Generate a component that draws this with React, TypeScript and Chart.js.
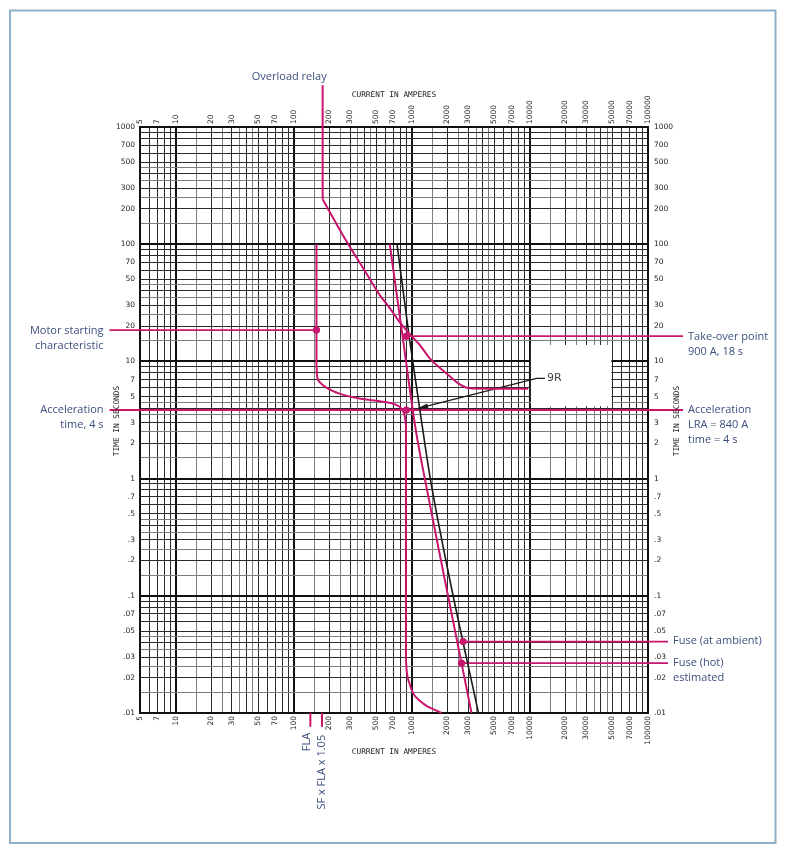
import { useEffect, useRef } from 'react';
import { Chart, registerables } from 'chart.js';

Chart.register(...registerables);

// ---- axes ----
const X_MIN = 5;
const X_MAX = 100000;
const Y_MIN = 0.01;
const Y_MAX = 1000;
const X_TICK_LABELS = [5, 7, 10, 20, 30, 50, 70, 100, 200, 300, 500, 700, 1000, 2000, 3000, 5000, 7000, 10000, 20000, 30000, 50000, 70000, 100000];
const Y_TICK_LABELS = [1000, 700, 500, 300, 200, 100, 70, 50, 30, 20, 10, 7, 5, 3, 2, 1, 0.7, 0.5, 0.3, 0.2, 0.1, 0.07, 0.05, 0.03, 0.02, 0.01];
const GRID_STEPS = [1, 1.5, 2, 2.5, 3, 3.5, 4, 4.5, 5, 6, 7, 8, 9];

// ---- overload relay (current A, time s) ----
const relayVertI = [176, 176];
const relayVertT = [2267, 242];
const relayCurveI = [176, 214, 270.5, 413, 536, 651, 791, 962, 1169, 1421, 1968, 2552, 3100, 4581, 9674];
const relayCurveT = [242, 170, 112.5, 56.3, 36.8, 28.5, 21.6, 17.1, 13.8, 10.6, 7.9, 6.37, 5.89, 5.85, 5.85];

// ---- motor starting characteristic ----
const motorRunI = [156, 156];
const motorRunT = [100, 9.3];
const motorBendI = [156, 158, 166, 189, 245, 362, 568, 732, 823, 872, 893];
const motorBendT = [9.3, 7.49, 6.66, 5.98, 5.31, 4.82, 4.52, 4.28, 3.92, 3.42, 2.86];
const motorDropI = [893, 893];
const motorDropT = [2.86, 0.0284];
const motorTailI = [893, 907, 952, 1026, 1169, 1332, 1566, 1785];
const motorTailT = [0.0284, 0.02245, 0.0181, 0.01478, 0.0127, 0.01151, 0.01065, 0.01];

// ---- fuses ----
const fuseHotI = [651, 815, 1081, 1289, 1904, 3205];
const fuseHotT = [100, 19.7, 2.6, 1.0, 0.137, 0.01];
const fuseAmbI = [750, 949, 1240, 1435, 2099, 3670];
const fuseAmbT = [100, 16.4, 2.6, 1.0, 0.137, 0.01];

// ---- marked points ----
const dotI = [156, 900, 900, 2720, 2637];
const dotT = [18.5, 3.85, 16.4, 0.0407, 0.0266];

// ---- leader lines ----
const motorLeaderI = [2.76, 156];
const motorLeaderT = [18.5, 18.5];
const accelLeaderI = [2.76, 197900];
const accelLeaderT = [3.85, 3.85];
const takeoverLeaderI = [900, 197900];
const takeoverLeaderT = [16.4, 16.4];
const fuseAmbLeaderI = [2720, 147700];
const fuseAmbLeaderT = [0.0407, 0.0407];
const fuseHotLeaderI = [2637, 147700];
const fuseHotLeaderT = [0.0266, 0.0266];
const flaMarkI = [138.5, 138.5];
const sfMarkI = [173.7, 173.7];
const markT = [0.01, 0.00762];

// ---- 9R pointer ----
const pointerI = [1131, 11397, 13404];
const pointerT = [3.974, 7.163, 7.163];

// ---- blanked box ----
const boxI = [10000, 49000];
const boxT = [13.8, 4.15];

const MAGENTA = '#c8166e';
const INK = '#3c4f7d';
const TEXT_FONT = '"Open Sans", "Noto Sans", sans-serif';

function gridValues(min: number, max: number): number[] {
  const out: number[] = [];
  for (let e = Math.floor(Math.log10(min)); e <= Math.ceil(Math.log10(max)); e++) {
    for (const m of GRID_STEPS) {
      const v = parseFloat((m * Math.pow(10, e)).toPrecision(6));
      if (v >= min * 0.9999 && v <= max * 1.0001) out.push(v);
    }
  }
  return out;
}
const X_GRID = gridValues(X_MIN, X_MAX);
const Y_GRID = gridValues(Y_MIN, Y_MAX);

const fmtLabel = (v: number) => (v < 1 ? String(v).replace(/^0/, '') : String(v));
function labelFor(list: number[], v: number): string {
  const hit = list.find((l) => Math.abs(Math.log10(l) - Math.log10(v)) < 1e-6);
  return hit === undefined ? '' : fmtLabel(hit);
}
function gridKind(v: number): number {
  const e = Math.floor(Math.log10(v) + 1e-9);
  const m = v / Math.pow(10, e);
  if (Math.abs(m - 1) < 1e-6) return 0;
  if (Math.abs(m - Math.round(m)) < 1e-6) return 1;
  return 2;
}
const gridColor = (c: any) => {
  const v = c.tick?.value;
  if (!v) return '#333';
  const k = gridKind(v);
  return k === 0 ? '#111' : k === 1 ? '#2a2a2a' : '#7d7d7d';
};
const gridWidth = (c: any) => {
  const v = c.tick?.value;
  if (!v) return 1;
  return gridKind(v) === 0 ? 2 : 1;
};

const tickFont = { family: '"DejaVu Sans", sans-serif', size: 7.5 };

function xScale(position: 'top' | 'bottom', showGrid: boolean) {
  return {
    type: 'logarithmic',
    axis: 'x',
    position,
    min: X_MIN,
    max: X_MAX,
    afterBuildTicks: (s: any) => {
      s.ticks = X_GRID.map((value) => ({ value }));
    },
    afterFit: (s: any) => {
      s.height = position === 'top' ? 127 : 142;
    },
    grid: { display: showGrid, drawTicks: false, tickLength: 0, color: gridColor, lineWidth: gridWidth },
    border: { display: true, color: '#111', width: 2 },
    ticks: {
      autoSkip: false,
      minRotation: 90,
      maxRotation: 90,
      padding: 3,
      labelOffset: position === 'top' ? 9 : 0,
      color: '#222',
      font: tickFont,
      callback: (v: any) => labelFor(X_TICK_LABELS, Number(v)),
    },
  };
}
function yScale(position: 'left' | 'right', showGrid: boolean) {
  return {
    type: 'logarithmic',
    axis: 'y',
    position,
    min: Y_MIN,
    max: Y_MAX,
    afterBuildTicks: (s: any) => {
      s.ticks = Y_GRID.map((value) => ({ value }));
    },
    afterFit: (s: any) => {
      s.width = 140;
    },
    grid: { display: showGrid, drawTicks: false, tickLength: 0, color: gridColor, lineWidth: gridWidth },
    border: { display: true, color: '#111', width: 2 },
    ticks: {
      autoSkip: false,
      padding: position === 'left' ? 5 : 6,
      color: '#222',
      font: tickFont,
      callback: (v: any) => labelFor(Y_TICK_LABELS, Number(v)),
    },
  };
}

const pts = (xs: number[], ys: number[]) => xs.map((x, i) => ({ x, y: ys[i] }));
function line(label: string, xs: number[], ys: number[], color: string, width: number, curved: boolean) {
  return {
    type: 'line',
    label,
    data: pts(xs, ys),
    borderColor: color,
    backgroundColor: color,
    borderWidth: width,
    pointRadius: 0,
    pointHoverRadius: 0,
    fill: false,
    tension: 0,
    cubicInterpolationMode: curved ? 'monotone' : 'default',
    clip: false,
  };
}

const annotate = {
  id: 'annotate',
  beforeDraw(chart: any) {
    const ctx = chart.ctx;
    ctx.save();
    ctx.fillStyle = '#ffffff';
    ctx.fillRect(0, 0, chart.width, chart.height);
    ctx.strokeStyle = '#8db0c6';
    ctx.lineWidth = 2;
    ctx.strokeRect(10, 10.5, 765.5, 832.5);
    ctx.restore();
  },
  beforeDatasetsDraw(chart: any) {
    const ctx = chart.ctx;
    const X = (v: number) => chart.scales.x.getPixelForValue(v);
    const Y = (v: number) => chart.scales.y.getPixelForValue(v);
    ctx.save();
    ctx.fillStyle = '#ffffff';
    const x0 = X(boxI[0]);
    const x1 = X(boxI[1]);
    const y0 = Y(boxT[0]);
    const y1 = Y(boxT[1]);
    ctx.fillRect(x0 + 1, y0, x1 - x0 - 1, y1 - y0);
    ctx.restore();
  },
  afterDatasetsDraw(chart: any) {
    const ctx = chart.ctx;
    const X = (v: number) => chart.scales.x.getPixelForValue(v);
    const Y = (v: number) => chart.scales.y.getPixelForValue(v);
    const px0 = X(pointerI[0]);
    const py0 = Y(pointerT[0]);
    const px1 = X(pointerI[1]);
    const py1 = Y(pointerT[1]);
    const ang = Math.atan2(py0 - py1, px0 - px1);
    ctx.save();
    ctx.translate(px0, py0);
    ctx.rotate(ang);
    ctx.fillStyle = '#1a1a1a';
    ctx.beginPath();
    ctx.moveTo(0, 0);
    ctx.lineTo(-10, -2.6);
    ctx.lineTo(-10, 2.6);
    ctx.closePath();
    ctx.fill();
    ctx.restore();
  },
  afterDraw(chart: any) {
    const ctx = chart.ctx;
    const area = chart.chartArea;
    const X = (v: number) => chart.scales.x.getPixelForValue(v);
    const Y = (v: number) => chart.scales.y.getPixelForValue(v);
    ctx.save();

    ctx.fillStyle = '#222';
    ctx.font = '7.8px "DejaVu Sans Mono", monospace';
    ctx.textBaseline = 'middle';
    ctx.textAlign = 'center';
    const cx = (area.left + area.right) / 2;
    ctx.fillText('CURRENT IN AMPERES', cx, area.top - 32);
    ctx.fillText('CURRENT IN AMPERES', cx, area.bottom + 39);
    const cy = (area.top + area.bottom) / 2;
    for (const tx of [area.left - 23, area.right + 29]) {
      ctx.save();
      ctx.translate(tx, cy + 1);
      ctx.rotate(-Math.PI / 2);
      ctx.fillText('TIME IN SECONDS', 0, 0);
      ctx.restore();
    }

    ctx.fillStyle = '#444';
    ctx.font = '11px "DejaVu Sans", sans-serif';
    ctx.textAlign = 'left';
    ctx.fillText('9R', X(pointerI[2]) + 2, Y(pointerT[2]));

    ctx.fillStyle = INK;
    ctx.font = `11px ${TEXT_FONT}`;
    const lines = (texts: string[], x: number, y: number, align: CanvasTextAlign, gap = 15) => {
      ctx.textAlign = align;
      texts.forEach((t, i) => ctx.fillText(t, x, y + i * gap));
    };
    lines(['Overload relay'], X(relayVertI[0]) + 4, Y(relayVertT[0]) - 8, 'right');
    lines(['Motor starting', 'characteristic'], X(motorLeaderI[0]) - 6, Y(motorLeaderT[0]) + 1, 'right');
    lines(['Acceleration', 'time, 4 s'], X(accelLeaderI[0]) - 6, Y(accelLeaderT[0]), 'right');
    lines(['Take-over point', '900 A, 18 s'], X(takeoverLeaderI[1]) + 5, Y(takeoverLeaderT[1]) + 1, 'left', 14.5);
    lines(['Acceleration', 'LRA = 840 A', 'time = 4 s'], X(accelLeaderI[1]) + 5, Y(accelLeaderT[1]), 'left');
    lines(['Fuse (at ambient)'], X(fuseAmbLeaderI[1]) + 5, Y(fuseAmbLeaderT[1]) - 1, 'left');
    lines(['Fuse (hot)', 'estimated'], X(fuseHotLeaderI[1]) + 5, Y(fuseHotLeaderT[1]), 'left');

    const markBottom = Y(markT[1]);
    const rot = (t: string, x: number, y: number) => {
      ctx.save();
      ctx.translate(x, y);
      ctx.rotate(-Math.PI / 2);
      ctx.textAlign = 'right';
      ctx.fillText(t, 0, 0);
      ctx.restore();
    };
    rot('FLA', X(flaMarkI[0]) - 4, markBottom + 6);
    rot('SF x FLA x 1.05', X(sfMarkI[0]) - 0.6, markBottom + 8);
    ctx.restore();
  },
};

export default function App() {
  const canvasRef = useRef<HTMLCanvasElement | null>(null);

  useEffect(() => {
    const canvas = canvasRef.current;
    if (!canvas) return;
    const datasets: any[] = [
      {
        type: 'line',
        label: 'points',
        data: pts(dotI, dotT),
        showLine: false,
        pointRadius: 3.6,
        pointBorderWidth: 0,
        pointBackgroundColor: MAGENTA,
        borderColor: MAGENTA,
        backgroundColor: MAGENTA,
        clip: false,
      },
      line('relay-vertical', relayVertI, relayVertT, MAGENTA, 2, false),
      line('relay-curve', relayCurveI, relayCurveT, MAGENTA, 2, true),
      line('motor-run', motorRunI, motorRunT, MAGENTA, 2, false),
      line('motor-bend', motorBendI, motorBendT, MAGENTA, 2, true),
      line('motor-drop', motorDropI, motorDropT, MAGENTA, 2, false),
      line('motor-tail', motorTailI, motorTailT, MAGENTA, 2, true),
      line('fuse-hot', fuseHotI, fuseHotT, MAGENTA, 2, true),
      line('fuse-ambient', fuseAmbI, fuseAmbT, '#1a1a1a', 1.6, true),
      line('motor-leader', motorLeaderI, motorLeaderT, MAGENTA, 1.8, false),
      line('accel-leader', accelLeaderI, accelLeaderT, MAGENTA, 1.8, false),
      line('takeover-leader', takeoverLeaderI, takeoverLeaderT, MAGENTA, 1.8, false),
      line('fuse-amb-leader', fuseAmbLeaderI, fuseAmbLeaderT, MAGENTA, 1.8, false),
      line('fuse-hot-leader', fuseHotLeaderI, fuseHotLeaderT, MAGENTA, 1.8, false),
      line('fla-mark', flaMarkI, markT, MAGENTA, 2, false),
      line('sf-mark', sfMarkI, markT, MAGENTA, 2, false),
      line('9R-pointer', pointerI, pointerT, '#1a1a1a', 1.3, false),
    ];

    const chart = new Chart(canvas, {
      type: 'line',
      data: { datasets },
      options: {
        responsive: false,
        animation: false,
        devicePixelRatio: 1,
        layout: { padding: 0 },
        events: [],
        plugins: {
          legend: { display: false },
          tooltip: { enabled: false },
        },
        scales: {
          x: xScale('bottom', true),
          x2: xScale('top', false),
          y: yScale('left', true),
          y2: yScale('right', false),
        } as any,
      },
      plugins: [annotate],
    } as any);
    return () => chart.destroy();
  }, []);

  return (
    <div style={{ position: 'fixed', left: 0, top: 0, width: 788, height: 855, background: '#fff' }}>
      <canvas ref={canvasRef} width={788} height={855} style={{ display: 'block', width: 788, height: 855 }} />
    </div>
  );
}
